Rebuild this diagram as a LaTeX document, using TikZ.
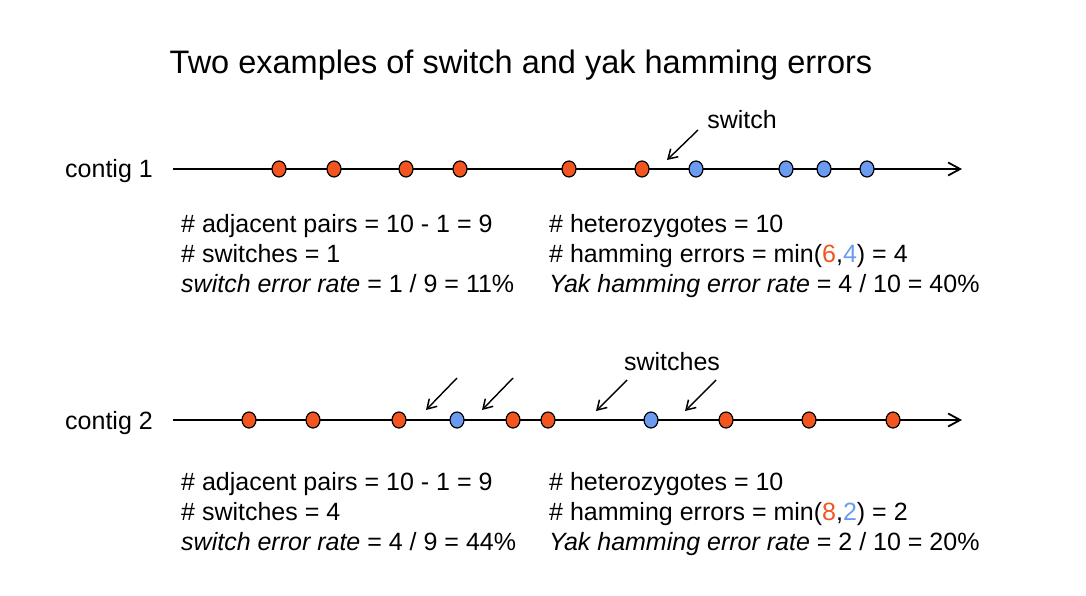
\documentclass[tikz,border=0pt]{standalone}
\usepackage{fontspec}
\setmainfont{Liberation Sans}
\usetikzlibrary{arrows.meta,shapes.geometric}
\definecolor{dotred}{HTML}{F2551F}
\definecolor{dotblue}{HTML}{6B9BF0}
\tikzset{
  dot/.style={ellipse,draw=black,line width=1.2pt,inner sep=0pt,minimum width=14pt,minimum height=16pt},
  rdot/.style={dot,fill=dotred},
  bdot/.style={dot,fill=dotblue},
  axis/.style={line width=1.5pt,-{Straight Barb[length=12pt,width=13pt,line width=1.8pt]}},
  pointer/.style={line width=1.4pt,-{Straight Barb[length=9pt,width=11pt,line width=1.5pt]}},
  txt/.style={anchor=base west,inner sep=0pt,font=\fontsize{25}{30}\selectfont},
  lbl/.style={anchor=base,inner sep=0pt,font=\fontsize{25}{30}\selectfont},
}
\begin{document}
\begin{tikzpicture}[x=1pt,y=-1pt]
\useasboundingbox[fill=white] (0,0) rectangle (1086,596);
\node[anchor=base,inner sep=0pt,font=\fontsize{32.5}{38}\selectfont] (title) at (521,74) {Two examples of switch and yak hamming errors};

% contig 1
\node[txt] (c1) at (65,178) {contig 1};
\coordinate (a1s) at (173,169);
\coordinate (a1e) at (962,169);
\draw[axis] (a1s) -- (a1e);
\foreach \x [count=\i] in {279,334,406,460,569,642} \node[rdot] (r1\i) at (\x,169) {};
\foreach \x [count=\i] in {696,786,824,867} \node[bdot] (b1\i) at (\x,169) {};
\node[lbl] (sw1) at (742,129) {switch};
\coordinate (p1s) at (698,130);
\coordinate (p1e) at (667,160);
\draw[pointer] (p1s) -- (p1e);

\node[txt] (t11) at (181,232) {\# adjacent pairs = 10 - 1 = 9};
\node[txt] (t12) at (181,262) {\# switches = 1};
\node[txt] (t13) at (181,292) {\textit{switch error rate} = 1 / 9 = 11\%};
\node[txt] (t14) at (549,232) {\# heterozygotes = 10};
\node[txt] (t15) at (549,262) {\# hamming errors = min(\textcolor{dotred}{6},\textcolor{dotblue}{4}) = 4};
\node[txt] (t16) at (549,292) {\textit{Yak hamming error rate} = 4 / 10 = 40\%};

% contig 2
\node[txt] (c2) at (65,429) {contig 2};
\coordinate (a2s) at (173,420);
\coordinate (a2e) at (962,420);
\draw[axis] (a2s) -- (a2e);
\foreach \x [count=\i] in {249,313,399} \node[rdot] (r2\i) at (\x,420) {};
\node[bdot] (b21) at (457,420) {};
\foreach \x [count=\i] in {513,548} \node[rdot] (r2\i b) at (\x,420) {};
\node[bdot] (b22) at (651,420) {};
\foreach \x [count=\i] in {726,809,893} \node[rdot] (r2\i c) at (\x,420) {};
\node[lbl] (sw2) at (672,370) {switches};
\coordinate (q1s) at (457,378); \coordinate (q1e) at (426,410);
\coordinate (q2s) at (513,378); \coordinate (q2e) at (482,410);
\coordinate (q3s) at (627,380); \coordinate (q3e) at (596,411);
\coordinate (q4s) at (716,380); \coordinate (q4e) at (685,411);
\foreach \k in {1,2,3,4} \draw[pointer] (q\k s) -- (q\k e);

\node[txt] (t21) at (181,490) {\# adjacent pairs = 10 - 1 = 9};
\node[txt] (t22) at (181,520) {\# switches = 4};
\node[txt] (t23) at (181,550) {\textit{switch error rate} = 4 / 9 = 44\%};
\node[txt] (t24) at (549,490) {\# heterozygotes = 10};
\node[txt] (t25) at (549,520) {\# hamming errors = min(\textcolor{dotred}{8},\textcolor{dotblue}{2}) = 2};
\node[txt] (t26) at (549,550) {\textit{Yak hamming error rate} = 2 / 10 = 20\%};
\end{tikzpicture}
\end{document}
